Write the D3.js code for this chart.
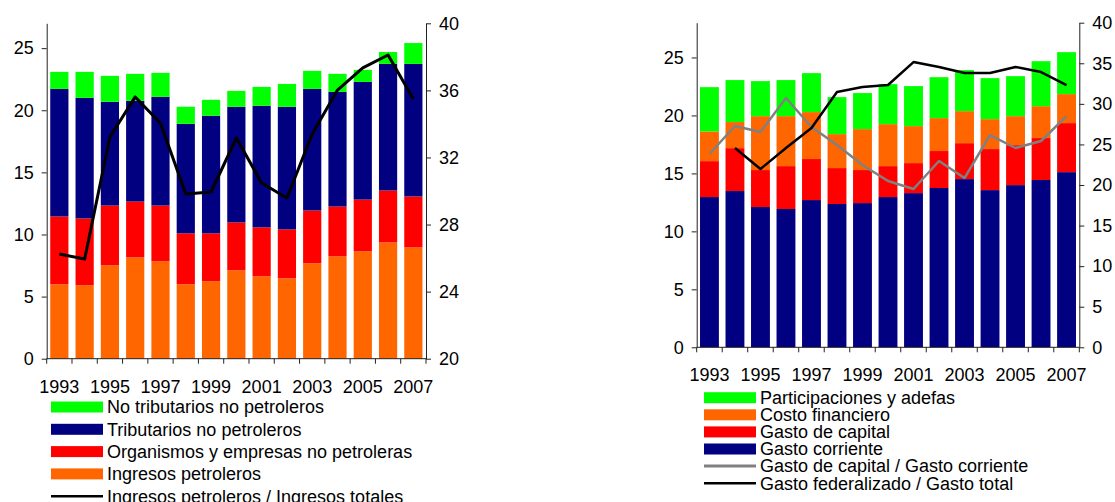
<!DOCTYPE html>
<html>
<head>
<meta charset="utf-8">
<script src="https://cdn.jsdelivr.net/npm/d3@7"></script>
<style>
  body { margin: 0; background: #fff; }
  svg text { font-family: "Liberation Sans", Arial, sans-serif; font-size: 18px; fill: #000; }
</style>
</head>
<body>
<div id="chart"></div>
<script>
// data
const years = d3.range(1993, 2008);

// left chart: ingresos (% PIB)
const ingPetroleros = [5.99, 5.91, 7.52, 8.16, 7.84, 5.99, 6.23, 7.12, 6.63, 6.47, 7.68, 8.24, 8.64, 9.36, 8.96];
const organismos   = [5.46, 5.38, 4.81, 4.49, 4.49, 4.10, 3.86, 3.85, 3.94, 3.94, 4.25, 4.01, 4.17, 4.18, 4.10];
const tributarios  = [10.27, 9.71, 8.35, 8.11, 8.75, 8.82, 9.47, 9.31, 9.79, 9.87, 9.79, 9.23, 9.47, 10.19, 10.67];
const noTributarios = [1.37, 2.09, 2.09, 2.17, 1.93, 1.37, 1.28, 1.28, 1.52, 1.84, 1.45, 1.45, 0.97, 0.96, 1.68];
const ratioIngresos = [26.24, 25.94, 33.22, 35.61, 34.04, 29.82, 29.94, 33.16, 30.48, 29.58, 33.40, 36.02, 37.34, 38.11, 35.49];

// right chart: gasto (% PIB)
const gastoCorriente = [12.96, 13.48, 12.10, 11.93, 12.70, 12.36, 12.44, 12.96, 13.30, 13.74, 14.51, 13.56, 13.99, 14.43, 15.11];
const gastoCapital   = [3.10, 3.70, 3.19, 3.70, 3.54, 3.10, 2.85, 2.67, 2.59, 3.19, 3.10, 3.54, 3.45, 3.62, 4.23];
const costoFin       = [2.56, 2.25, 4.65, 4.31, 4.05, 2.93, 3.53, 3.62, 3.19, 2.84, 2.76, 2.58, 2.50, 2.75, 2.50];
const participaciones = [3.82, 3.62, 3.02, 3.11, 3.36, 3.19, 3.11, 3.45, 3.45, 3.53, 3.54, 3.54, 3.45, 3.88, 3.62];
const ratioCapital   = [23.82, 27.27, 26.53, 30.72, 27.15, 24.93, 22.46, 20.49, 19.51, 22.96, 20.86, 26.16, 24.56, 25.42, 28.50];
const ratioFederal   = [null, 24.56, 21.97, 24.56, 27.02, 31.46, 32.07, 32.32, 35.15, 34.54, 33.80, 33.80, 34.54, 33.92, 32.32];

const yearLabels = [1993, 1995, 1997, 1999, 2001, 2003, 2005, 2007];

const green = "#00ff00", navy = "#000080", red = "#ff0000", orange = "#ff6600";

const svg = d3.select("#chart").append("svg")
  .attr("width", 1115).attr("height", 502);

function drawPanel(cfg) {
  const g = svg.append("g");
  const x = d3.scaleBand().domain(years)
    .range([cfg.x0, cfg.x1])
    .paddingInner(cfg.pad).paddingOuter(cfg.pad / 2);
  const y = d3.scaleLinear().domain([0, cfg.yMax]).range([cfg.y0, cfg.yTop]);
  const y2 = d3.scaleLinear().domain(cfg.y2Domain).range([cfg.y0, cfg.yTop]);

  // stacked bars
  const rows = years.map((yr, i) => {
    const o = { year: yr };
    cfg.series.forEach(s => o[s.key] = s.values[i]);
    return o;
  });
  const stack = d3.stack().keys(cfg.series.map(s => s.key))(rows);
  g.selectAll("g.layer")
    .data(stack)
    .join("g")
    .attr("fill", (d, i) => cfg.series[i].color)
    .selectAll("rect")
    .data(d => d)
    .join("rect")
    .attr("x", d => x(d.data.year))
    .attr("width", x.bandwidth())
    .attr("y", d => y(d[1]))
    .attr("height", d => y(d[0]) - y(d[1]));

  // lines on right axis
  cfg.lines.forEach(l => {
    const line = d3.line()
      .defined(d => d != null)
      .x((d, i) => x(years[i]) + x.bandwidth() / 2)
      .y(d => y2(d));
    g.append("path")
      .attr("d", line(l.values))
      .attr("fill", "none")
      .attr("stroke", l.color)
      .attr("stroke-width", l.width)
      .attr("stroke-linejoin", "round");
  });

  // left axis
  const axL = g.append("g").attr("transform", `translate(${cfg.x0},0)`)
    .call(d3.axisLeft(y).tickValues(cfg.yTicks).tickSize(5).tickPadding(8).tickSizeOuter(0));
  // right axis
  const axR = g.append("g").attr("transform", `translate(${cfg.x1},0)`)
    .call(d3.axisRight(y2).tickValues(cfg.y2Ticks).tickSize(5).tickPadding(8).tickSizeOuter(0));
  [axL, axR].forEach(a => {
    a.select(".domain").attr("stroke", "#222");
    a.selectAll(".tick line").attr("stroke", "#222");
    a.selectAll("text").attr("font-size", null).attr("font-family", null);
  });

  // bottom axis: ticks between categories
  const gap = (x.step() - x.bandwidth()) / 2;
  g.append("line")
    .attr("x1", cfg.x0).attr("x2", cfg.x1)
    .attr("y1", cfg.y0).attr("y2", cfg.y0)
    .attr("stroke", "#222");
  const tickX = years.map(yr => x(yr) - gap).concat([cfg.x1]);
  g.selectAll("line.xt")
    .data(tickX)
    .join("line")
    .attr("class", "xt")
    .attr("x1", d => d).attr("x2", d => d)
    .attr("y1", cfg.y0).attr("y2", cfg.y0 + 5)
    .attr("stroke", "#222");
  g.selectAll("text.xl")
    .data(yearLabels)
    .join("text")
    .attr("class", "xl")
    .attr("x", d => x(d) + x.bandwidth() / 2)
    .attr("y", cfg.labelY)
    .attr("text-anchor", "middle")
    .attr("dy", "0.35em")
    .text(d => d);

  // legend
  const leg = g.append("g");
  cfg.legend.forEach((item, i) => {
    const cy = cfg.legY + i * cfg.legStep;
    if (item.type === "rect") {
      leg.append("rect")
        .attr("x", cfg.legX).attr("y", cy - 5.5)
        .attr("width", 52).attr("height", 11)
        .attr("fill", item.color);
    } else {
      leg.append("line")
        .attr("x1", cfg.legX).attr("x2", cfg.legX + 52)
        .attr("y1", cy).attr("y2", cy)
        .attr("stroke", item.color).attr("stroke-width", item.width);
    }
    leg.append("text")
      .attr("x", cfg.legX + 56).attr("y", cy)
      .attr("dy", "0.35em")
      .text(item.label);
  });
}

drawPanel({
  x0: 46.7, x1: 426, y0: 358.7, yTop: 23.3, pad: 0.28,
  yMax: 27, yTicks: [0, 5, 10, 15, 20, 25],
  y2Domain: [20, 40], y2Ticks: [20, 24, 28, 32, 36, 40],
  series: [
    { key: "pet", values: ingPetroleros, color: orange },
    { key: "org", values: organismos, color: red },
    { key: "trib", values: tributarios, color: navy },
    { key: "notrib", values: noTributarios, color: green }
  ],
  lines: [{ values: ratioIngresos, color: "#000", width: 3 }],
  labelY: 386.5,
  legX: 51, legY: 407, legStep: 22.3,
  legend: [
    { type: "rect", color: green, label: "No tributarios no petroleros" },
    { type: "rect", color: navy, label: "Tributarios no petroleros" },
    { type: "rect", color: red, label: "Organismos y empresas no petroleras" },
    { type: "rect", color: orange, label: "Ingresos petroleros" },
    { type: "line", color: "#000", width: 2.5, label: "Ingresos petroleros / Ingresos totales" }
  ]
});

drawPanel({
  x0: 696.7, x1: 1079.3, y0: 347.3, yTop: 22.7, pad: 0.26,
  yMax: 28, yTicks: [0, 5, 10, 15, 20, 25],
  y2Domain: [0, 40], y2Ticks: [0, 5, 10, 15, 20, 25, 30, 35, 40],
  series: [
    { key: "corr", values: gastoCorriente, color: navy },
    { key: "cap", values: gastoCapital, color: red },
    { key: "fin", values: costoFin, color: orange },
    { key: "part", values: participaciones, color: green }
  ],
  lines: [
    { values: ratioCapital, color: "#808080", width: 2.5 },
    { values: ratioFederal, color: "#000", width: 2.5 }
  ],
  labelY: 375,
  legX: 704, legY: 397.7, legStep: 17.1,
  legend: [
    { type: "rect", color: green, label: "Participaciones y adefas" },
    { type: "rect", color: orange, label: "Costo financiero" },
    { type: "rect", color: red, label: "Gasto de capital" },
    { type: "rect", color: navy, label: "Gasto corriente" },
    { type: "line", color: "#808080", width: 3, label: "Gasto de capital / Gasto corriente" },
    { type: "line", color: "#000", width: 2.5, label: "Gasto federalizado / Gasto total" }
  ]
});
</script>
</body>
</html>
